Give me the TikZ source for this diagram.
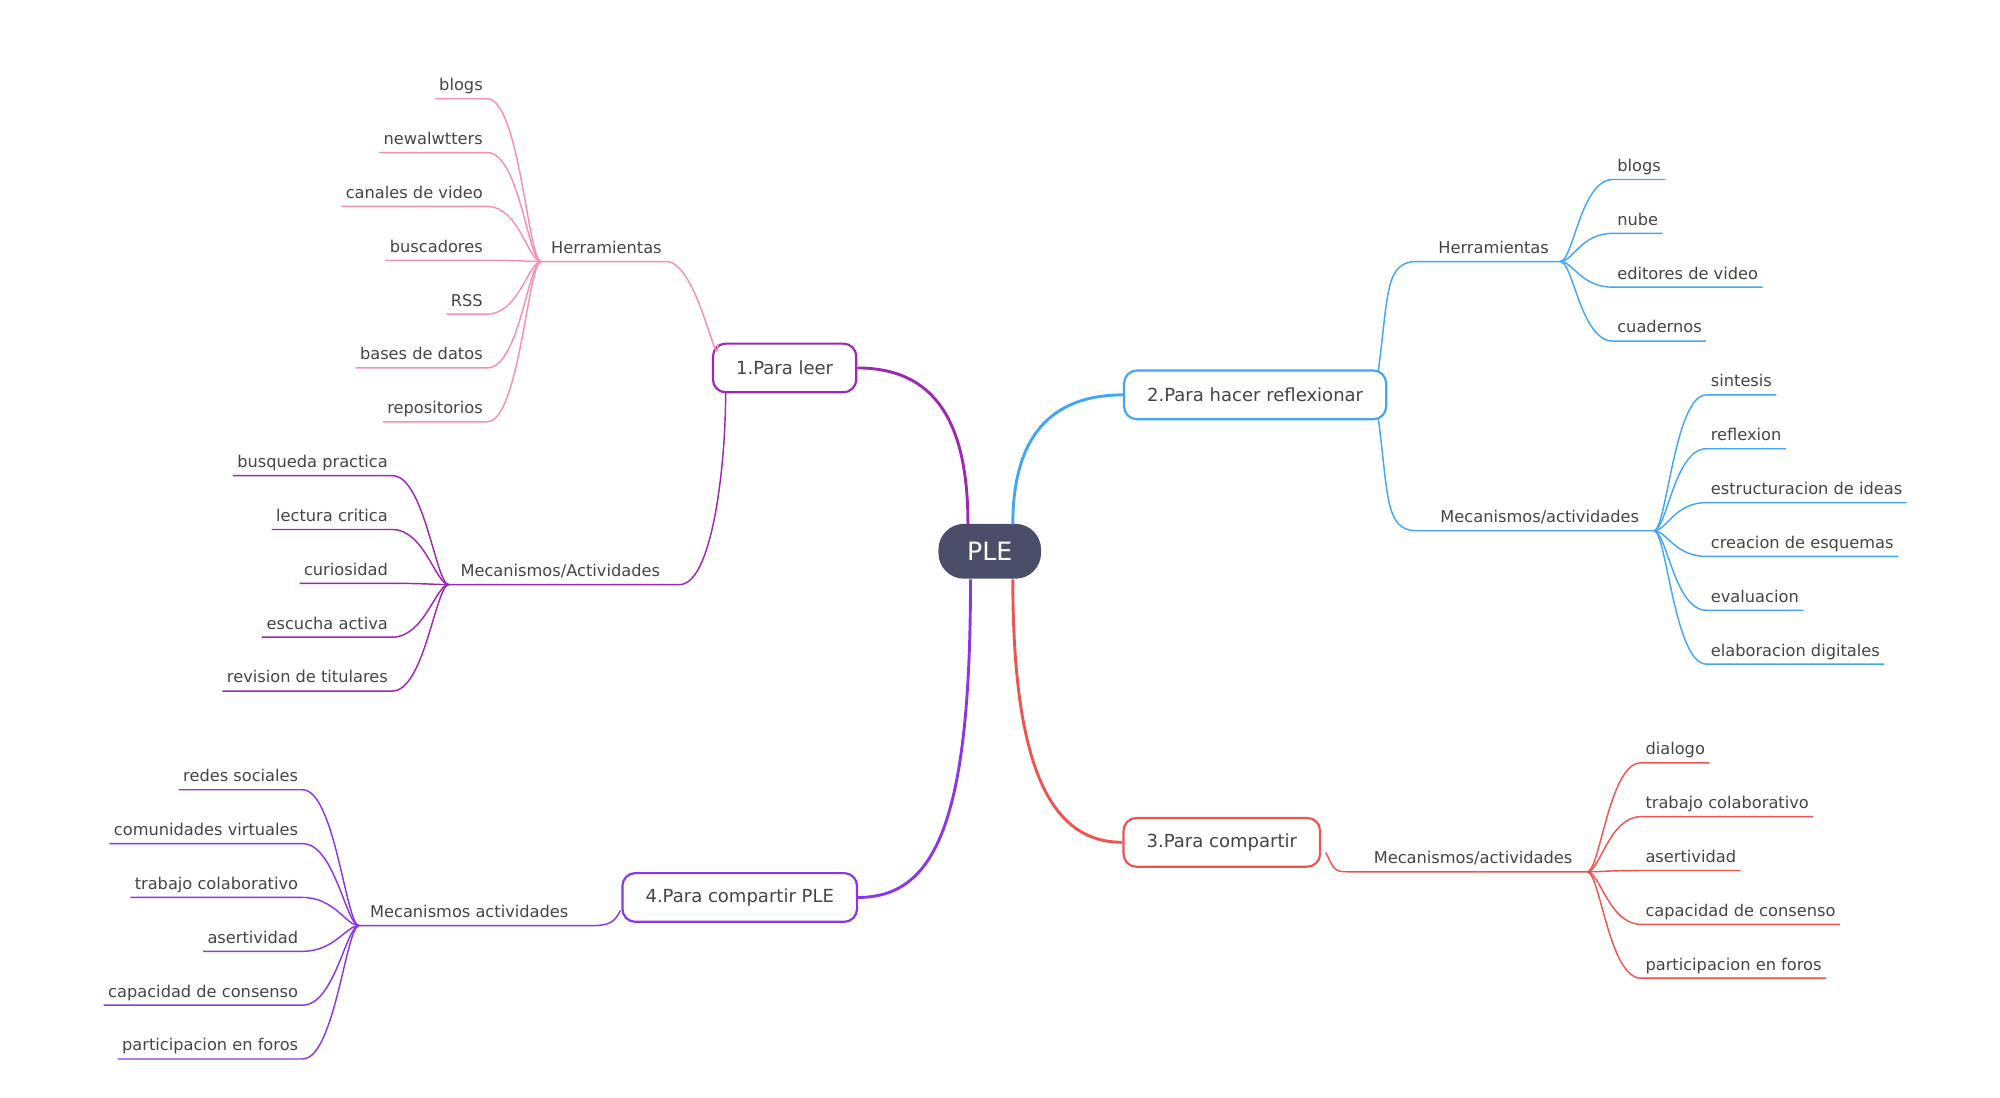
\documentclass[tikz,border=0pt]{standalone}
\usepackage{fontspec}
\setmainfont{DejaVu Sans}
\usetikzlibrary{positioning,calc}
\definecolor{cPink}{HTML}{F48FB1}
\definecolor{cPurple}{HTML}{9C27B0}
\definecolor{cBlue}{HTML}{42A5F5}
\definecolor{cRed}{HTML}{EF5350}
\definecolor{cViolet}{HTML}{8A35E8}
\definecolor{cRoot}{HTML}{4A4E69}
\definecolor{cText}{HTML}{444444}
\begin{document}
\begin{tikzpicture}
[x=0.025cm,y=-0.025cm,
root/.style={fill=cRoot,text=white,rounded corners=0.5cm,minimum width=2cm,minimum height=1.07cm,font=\fontsize{14}{16}\selectfont},
topic/.style={draw=#1,line width=1.2pt,fill=white,rounded corners=0.25cm,minimum height=0.95cm,inner xsep=0.45cm,text=cText,font=\fontsize{10}{12}\selectfont},
leaf/.style={inner xsep=0.08cm,inner ysep=0.08cm,text height=0.25cm,text depth=0.07cm,text=cText,font=\fontsize{9}{11}\selectfont},
main/.style={line width=1.6pt,#1},
sub/.style={line width=0.8pt,#1}]
\useasboundingbox (0,0) rectangle (1560,856);
%%
\node[root] (ple) at (772,430) {PLE};
\node[topic=cPurple] (leer) at (612,287) {1.Para leer};
\node[topic=cBlue] (refl) at (979,308) {2.Para hacer reflexionar};
\node[topic=cRed] (comp) at (953,657) {3.Para compartir};
\node[topic=cViolet] (ple4) at (577,700) {4.Para compartir PLE};
%%
\draw[main=cPurple] (755,409) .. controls (755,330) and (730,287) .. (leer.east);
\draw[main=cBlue] (790,409) .. controls (790,340) and (820,308) .. (refl.west);
\draw[main=cRed] (790,452) .. controls (790,600) and (820,657) .. (comp.west);
\draw[main=cViolet] (757,452) .. controls (757,640) and (730,700) .. (ple4.east);
%% rama 1
\node[leaf,anchor=south] (leerH) at (473,204) {Herramientas};
\coordinate (leerHj) at (422,204);
\draw[sub=cPink] (leerHj) -- (leerH.south east) .. controls +(25,0) and +(0,30) .. (560,268);
\foreach \y/\t [count=\i] in {60/blogs,102/newalwtters,144/canales de video,186/buscadores,228/RSS,270/bases de datos,312/repositorios}{
  \node[leaf,anchor=south east] (leerH\i) at (380,\y+17) {\t};
  \draw[sub=cPink] (leerH\i.south west) -- (leerH\i.south east) .. controls +(25,0) and +(-10,0) .. (leerHj);
}
\node[leaf,anchor=south] (leerM) at (437,456) {Mecanismos/Actividades};
\coordinate (leerMj) at (350,456);
\draw[sub=cPurple] (leerMj) -- (leerM.south east) -- (530,456) .. controls +(25,0) and +(0,60) .. (566,306);
\foreach \y/\t [count=\i] in {354/busqueda practica,396/lectura critica,438/curiosidad,480/escucha activa,522/revision de titulares}{
  \node[leaf,anchor=south east] (leerM\i) at (306,\y+17) {\t};
  \draw[sub=cPurple] (leerM\i.south west) -- (leerM\i.south east) .. controls +(25,0) and +(-10,0) .. (leerMj);
}
%% rama 2
\node[leaf,anchor=south] (reflH) at (1165,204) {Herramientas};
\coordinate (reflHj) at (1217,204);
\draw[sub=cBlue] (1075,290) .. controls +(8,-60) and +(-25,0) .. (1105,204) -- (reflHj);
\foreach \y/\t [count=\i] in {123/blogs,165/nube,207/editores de video,249/cuadernos/notas digitales}{
  \node[leaf,anchor=south west] (reflH\i) at (1258,\y+17) {\t};
  \draw[sub=cBlue] (reflHj) .. controls +(10,0) and +(-25,0) .. (reflH\i.south west) -- (reflH\i.south east);
}
\node[leaf,anchor=south] (reflM) at (1201,414) {Mecanismos/actividades};
\coordinate (reflMj) at (1290,414);
\draw[sub=cBlue] (1075,326) .. controls +(8,60) and +(-25,0) .. (1105,414) -- (reflMj);
\foreach \y/\t [count=\i] in {291/sintesis/analizis,333/reflexion,375/estructuracion de ideas,417/creacion de esquemas,459/evaluacion,501/elaboracion digitales}{
  \node[leaf,anchor=south west] (reflM\i) at (1331,\y+17) {\t};
  \draw[sub=cBlue] (reflMj) .. controls +(10,0) and +(-25,0) .. (reflM\i.south west) -- (reflM\i.south east);
}
%% rama 3
\node[leaf,anchor=south] (compM) at (1149,680) {Mecanismos/actividades};
\coordinate (compMj) at (1238,680);
\draw[sub=cRed] (1034,665) .. controls +(8,15) and +(-15,0) .. (1055,680) -- (compMj);
\foreach \y/\t [count=\i] in {578/dialogo,620/trabajo colaborativo,662/asertividad,704/capacidad de consenso,746/participacion en foros}{
  \node[leaf,anchor=south west] (compM\i) at (1280,\y+17) {\t};
  \draw[sub=cRed] (compMj) .. controls +(10,0) and +(-25,0) .. (compM\i.south west) -- (compM\i.south east);
}
%% rama 4
\node[leaf,anchor=south] (ple4M) at (366,722) {Mecanismos actividades};
\coordinate (ple4Mj) at (280,722);
\draw[sub=cViolet] (ple4Mj) -- (460,722) .. controls +(15,0) and +(-5,10) .. (484,710);
\foreach \y/\t [count=\i] in {599/redes sociales,641/comunidades virtuales,683/trabajo colaborativo,725/asertividad,767/capacidad de consenso,809/participacion en foros}{
  \node[leaf,anchor=south east] (ple4M\i) at (236,\y+17) {\t};
  \draw[sub=cViolet] (ple4M\i.south west) -- (ple4M\i.south east) .. controls +(25,0) and +(-10,0) .. (ple4Mj);
}
\end{tikzpicture}
\end{document}
